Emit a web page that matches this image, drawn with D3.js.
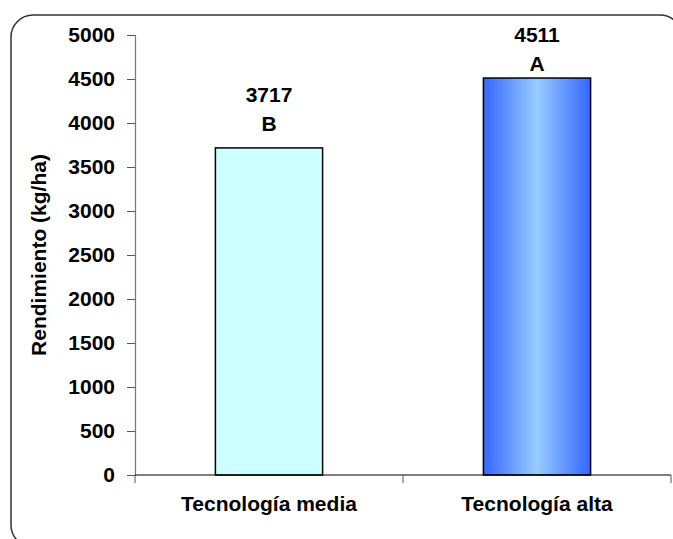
<!DOCTYPE html>
<html>
<head>
<meta charset="utf-8">
<script src="https://cdn.jsdelivr.net/npm/d3@7"></script>
<style>
  body { margin: 0; background: #fff; }
  svg { display: block; font-family: 'Liberation Sans', Arial, sans-serif; }
</style>
</head>
<body>
<svg id="chart" width="673" height="539"></svg>
<script>
(function(){
'use strict';

// data
var categories = ['Tecnología media', 'Tecnología alta'];
var values = [3717, 4511];
var groups = ['B', 'A'];
var yTicks = [0, 500, 1000, 1500, 2000, 2500, 3000, 3500, 4000, 4500, 5000];

var svg = d3.select('#chart');
var margin = { left: 135, right: 2, top: 35, bottom: 64 };
var W = 673, H = 539;
var FS = 21;

// outer rounded frame (runs off the right and bottom edges)
svg.append('rect')
    .attr('x', 11).attr('y', 15)
    .attr('width', 671).attr('height', 532)
    .attr('rx', 22).attr('ry', 22)
    .attr('fill', 'none')
    .attr('stroke', '#333')
    .attr('stroke-width', 1.5);

var grad = svg.append('defs').append('linearGradient')
    .attr('id', 'blueGrad')
    .attr('x1', '0%').attr('x2', '100%')
    .attr('y1', '0%').attr('y2', '0%');
grad.append('stop').attr('offset', '0%').attr('stop-color', '#3366FF');
grad.append('stop').attr('offset', '50%').attr('stop-color', '#99CCFF');
grad.append('stop').attr('offset', '100%').attr('stop-color', '#3366FF');

var x = d3.scaleBand()
    .domain(categories)
    .range([margin.left, W - margin.right])
    .paddingInner(0.6)
    .paddingOuter(0.3);

var y = d3.scaleLinear()
    .domain([0, 5000])
    .range([H - margin.bottom, margin.top]);

// y axis
var yAxis = svg.append('g')
    .attr('transform', 'translate(' + margin.left + ',0)')
    .call(d3.axisLeft(y).tickValues(yTicks).tickFormat(d3.format('d'))
        .tickSize(8).tickPadding(12));
yAxis.select('.domain').attr('stroke', '#777').attr('stroke-width', 1.2);
yAxis.selectAll('.tick line').attr('stroke', '#555');
yAxis.selectAll('text')
    .attr('font-size', FS)
    .attr('font-weight', 'bold')
    .attr('fill', '#000')
    .attr('font-family', "'Liberation Sans', Arial, sans-serif");

// bars
var fills = ['#CCFFFF', 'url(#blueGrad)'];
svg.append('g').selectAll('rect')
    .data(values)
    .join('rect')
    .attr('x', function(d, i){ return x(categories[i]); })
    .attr('y', function(d){ return y(d); })
    .attr('width', x.bandwidth())
    .attr('height', function(d){ return y(0) - y(d); })
    .attr('fill', function(d, i){ return fills[i]; })
    .attr('stroke', '#000')
    .attr('stroke-width', 1.5);

// x axis with ticks at category boundaries
var x0 = margin.left, x1 = W - margin.right;
var xa = svg.append('g');
xa.append('line')
    .attr('x1', x0).attr('x2', x1)
    .attr('y1', y(0)).attr('y2', y(0))
    .attr('stroke', '#000').attr('stroke-width', 1.2);
var step = x.step();
d3.range(categories.length + 1).forEach(function(i){
    xa.append('line')
        .attr('x1', x0 + i * step).attr('x2', x0 + i * step)
        .attr('y1', y(0)).attr('y2', y(0) + 8)
        .attr('stroke', '#555');
});
xa.selectAll('text')
    .data(categories)
    .join('text')
    .attr('x', function(d){ return x(d) + x.bandwidth() / 2; })
    .attr('y', y(0) + 36)
    .attr('text-anchor', 'middle')
    .attr('font-size', FS)
    .attr('font-weight', 'bold')
    .text(function(d){ return d; });

// value labels + group letters (pushed down when they would leave the top)
var lab = svg.append('g');
values.forEach(function(v, i){
    var cx = x(categories[i]) + x.bandwidth() / 2;
    var base = Math.max(y(v) - 46, 42);
    lab.append('text')
        .attr('x', cx).attr('y', base)
        .attr('text-anchor', 'middle')
        .attr('font-size', FS).attr('font-weight', 'bold')
        .text(v);
    lab.append('text')
        .attr('x', cx).attr('y', base + 29)
        .attr('text-anchor', 'middle')
        .attr('font-size', FS).attr('font-weight', 'bold')
        .text(groups[i]);
});

// y axis title
svg.append('text')
    .attr('transform', 'translate(46,' + y(2500) + ') rotate(-90)')
    .attr('text-anchor', 'middle')
    .attr('font-size', FS)
    .attr('font-weight', 'bold')
    .text('Rendimiento (kg/ha)');

})();
</script>
</body>
</html>
